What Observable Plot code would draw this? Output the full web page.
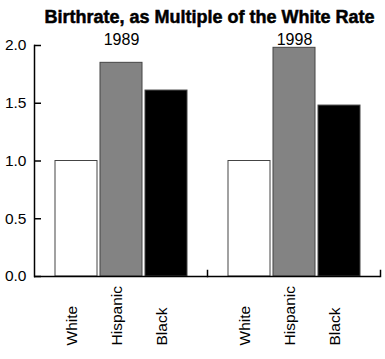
<!DOCTYPE html>
<html>
<head>
<meta charset="utf-8">
<script src="https://cdn.jsdelivr.net/npm/d3@7"></script>
<script src="https://cdn.jsdelivr.net/npm/@observablehq/plot@0.6"></script>
<style>
  html, body { margin: 0; padding: 0; background: #fff; }
  #title {
    width: 385px; height: 32px; box-sizing: border-box; padding-left: 34px;
    text-align: center; font-family: "Liberation Sans Narrow", "Liberation Sans", sans-serif;
    font-weight: 900; font-size: 18px; line-height: 34px; color: #000;
    -webkit-text-stroke: 0.5px #000;
  }
</style>
</head>
<body>
<div id="title">Birthrate, as Multiple of the White Rate</div>
<div id="chart"></div>
<script>
const years = ["1989", "1998"];
const races = ["White", "Hispanic", "Black"];
const values1989 = [1.0, 1.85, 1.61];
const values1998 = [1.0, 1.98, 1.48];
const yTicks = [0, 0.5, 1.0, 1.5, 2.0];
const fills = ["#ffffff", "#838383", "#000000"];

const seriesByYear = {"1989": values1989, "1998": values1998};
const data = years.flatMap(year => races.map((race, i) => ({year, race, value: seriesByYear[year][i]})));
const tickData = yTicks.map(v => ({v, year: years[0]}));

const font = "Liberation Sans, Arial, sans-serif";

const chart = Plot.plot({
  width: 385,
  height: 327,
  marginLeft: 34,
  marginRight: 5,
  marginTop: 13,
  marginBottom: 83,
  style: {fontFamily: font, fontSize: "15.5px", background: "#fff", color: "#000", overflow: "visible"},
  fx: {domain: years, padding: 0, axis: null},
  x: {domain: races, paddingInner: 0.076, paddingOuter: 0.42, axis: null},
  y: {domain: [0, 2], axis: null},
  color: {domain: races, range: fills},
  marks: [
    Plot.barY(data, {fx: "year", x: "race", y: "value", fill: "race", stroke: "#444", strokeWidth: 1}),
    Plot.ruleY([0], {stroke: "#000", strokeWidth: 1.5}),
    Plot.frame({anchor: "left", facetAnchor: "left", stroke: "#000", strokeWidth: 1.5}),
    Plot.frame({anchor: "right", insetTop: 225, stroke: "#000", strokeWidth: 1.5}),
    Plot.axisY({ticks: yTicks, tickSize: 0, tickPadding: 8, tickFormat: d3.format(".1f"), label: null, fontSize: 15.5}),
    Plot.ruleY(tickData, {y: "v", fx: "year", stroke: "#000", strokeWidth: 1.5, strokeDasharray: "7 400"}),
    Plot.text(years, {fx: d => d, x: () => "Hispanic", y: () => 2, text: d => d, lineAnchor: "bottom", dy: -1, fontSize: 16}),
    Plot.text(data, {fx: "year", x: "race", text: "race", frameAnchor: "bottom", rotate: -90, textAnchor: "start", dy: 69, fontSize: 15.5})
  ]
});
document.getElementById("chart").appendChild(chart);
</script>
</body>
</html>
